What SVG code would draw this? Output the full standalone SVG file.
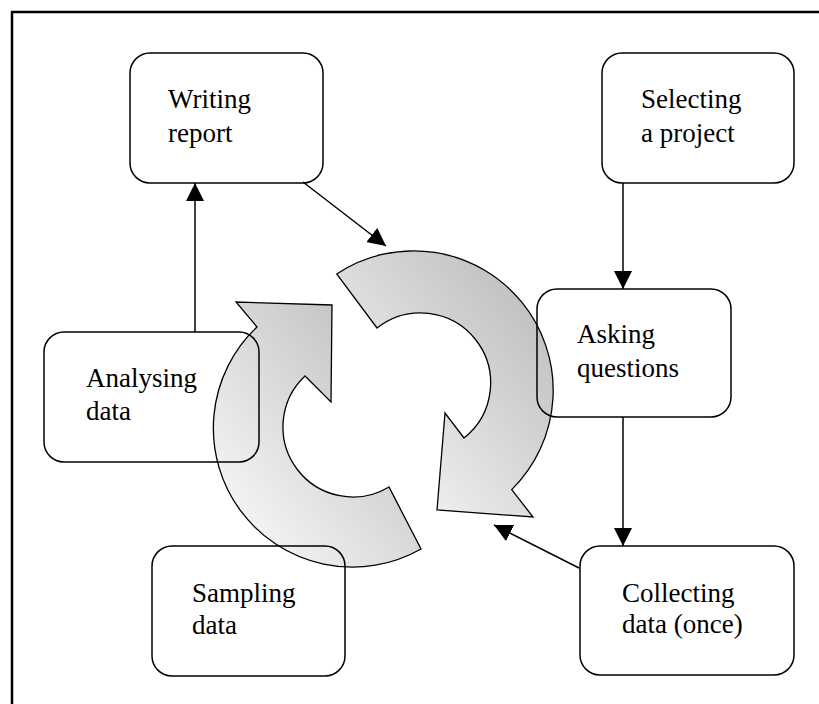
<svg xmlns="http://www.w3.org/2000/svg" width="819" height="704" viewBox="0 0 819 704">
  <defs>
    <linearGradient id="ringGrad" x1="0" y1="1" x2="1" y2="0">
      <stop offset="0" stop-color="#ffffff"/>
      <stop offset="1" stop-color="#b6b6b6"/>
    </linearGradient>
    <marker id="arrow" viewBox="0 0 18 18" refX="18" refY="9" markerWidth="18" markerHeight="18" markerUnits="userSpaceOnUse" orient="auto">
      <path d="M0,0 L18,9 L0,18 Z" fill="#000"/>
    </marker>
  </defs>
  <style>
    .box { fill: none; stroke: #000; stroke-width: 1.5; }
    .ring { fill: url(#ringGrad); stroke: #000; stroke-width: 1.3; stroke-linejoin: miter; }
    .label { font-family: "Liberation Serif", "Times New Roman", serif; font-size: 27px; fill: #000; }
    .conn { fill: none; stroke: #000; stroke-width: 1.5; marker-end: url(#arrow); }
  </style>
  <rect width="819" height="704" fill="#ffffff"/>
  <rect x="12" y="12" width="900" height="800" fill="none" stroke="#000" stroke-width="2.5"/>

  <g id="cycle-arrows">
    <path id="ring-big" class="ring" d="M336.7,274 A139.5,139.5 0 0 1 511.7,489.6 L533,517 L437,510 L445,413 L464,438 A70,70 0 0 0 377,328 Z"/>
    <path id="ring-small" class="ring" d="M421,549 A139,139 0 0 1 257,327 L236,302 L332,305 L331,402 L305,376 A70,70 0 0 0 389,487 Z"/>
  </g>

  <g id="connectors">
    <path class="conn" d="M623,183 L623,289"/>
    <path class="conn" d="M623,417 L623,546"/>
    <path class="conn" d="M579,568 L494,525"/>
    <path class="conn" d="M195,332 L195,183"/>
    <path class="conn" d="M303,182 L386,246"/>
  </g>

  <g id="writing-report">
    <rect class="box" x="130" y="53" width="193" height="130" rx="20"/>
    <text class="label" x="168" y="108">Writing</text>
    <text class="label" x="168" y="142">report</text>
  </g>
  <g id="selecting-project">
    <rect class="box" x="602" y="53" width="192" height="130" rx="20"/>
    <text class="label" x="641" y="108">Selecting</text>
    <text class="label" x="641" y="142">a project</text>
  </g>
  <g id="asking-questions">
    <rect class="box" x="537" y="289" width="194" height="128" rx="20"/>
    <text class="label" x="577" y="343">Asking</text>
    <text class="label" x="577" y="377">questions</text>
  </g>
  <g id="collecting-data">
    <rect class="box" x="580" y="546" width="214" height="129" rx="20"/>
    <text class="label" x="622" y="602">Collecting</text>
    <text class="label" x="622" y="633">data (once)</text>
  </g>
  <g id="analysing-data">
    <rect class="box" x="44" y="332" width="215" height="130" rx="20"/>
    <text class="label" x="86" y="387">Analysing</text>
    <text class="label" x="86" y="420">data</text>
  </g>
  <g id="sampling-data">
    <rect class="box" x="152" y="546" width="193" height="130" rx="20"/>
    <text class="label" x="192" y="602">Sampling</text>
    <text class="label" x="192" y="634">data</text>
  </g>
</svg>
